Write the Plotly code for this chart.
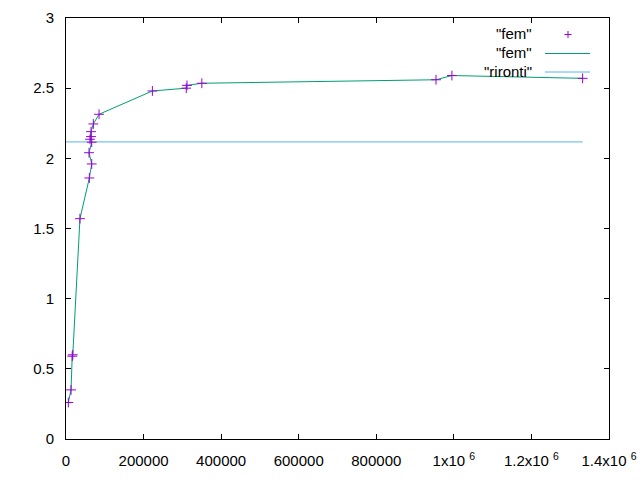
import plotly.graph_objects as go

# data
fem_x = [6000, 13000, 16000, 17500, 36000, 60200, 66300, 59400, 66300, 61900,
         64500, 64500, 70500, 85200, 222700, 310000, 312000, 350200, 954000,
         995000, 1332000]
fem_y = [0.26, 0.35, 0.59, 0.60, 1.57, 1.86, 1.96, 2.04, 2.115, 2.136,
         2.155, 2.19, 2.245, 2.314, 2.48, 2.50, 2.52, 2.535, 2.56,
         2.59, 2.57]
rironti_x = [0, 1332000]
rironti_y = [2.117, 2.117]

x_tickvals = [0, 200000, 400000, 600000, 800000, 1000000, 1200000, 1400000]
x_ticktext = ["0", "200000", "400000", "600000", "800000",
              "1x10 <sup>6</sup>", "1.2x10 <sup>6</sup>", "1.4x10 <sup>6</sup>"]
y_tickvals = [0, 0.5, 1, 1.5, 2, 2.5, 3]
y_ticktext = ["0", "0.5", "1", "1.5", "2", "2.5", "3"]
legend_labels = ['"fem"', '"fem"', '"rironti"']

PURPLE = "#9400d3"
GREEN = "#009e73"
BLUE = "#56b4e9"
FONT = "Liberation Sans, Arial, sans-serif"
FS = 15

fig = go.Figure()
fig.add_trace(go.Scatter(x=rironti_x, y=rironti_y, mode="lines",
                         line=dict(color=BLUE, width=1), showlegend=False))
fig.add_trace(go.Scatter(x=fem_x, y=fem_y, mode="lines",
                         line=dict(color=GREEN, width=1), showlegend=False))
fig.add_trace(go.Scatter(x=fem_x, y=fem_y, mode="markers",
                         marker=dict(symbol="cross-thin", size=7,
                                     line=dict(color=PURPLE, width=1)),
                         showlegend=False))

W, H = 640, 480
L, R, T, B = 66, 31, 18, 41
pw, ph = W - L - R, H - T - B


def px(xp):
    return (xp - L) / pw


def py(yp):
    return 1 - (yp - T) / ph


shapes = []
annotations = []
rows = [33.5, 52.5, 71]
for lab, yy in zip(legend_labels, rows):
    annotations.append(dict(x=px(534), y=py(yy), xref="paper", yref="paper",
                            text=lab, showarrow=False, xanchor="right",
                            yanchor="middle",
                            font=dict(family=FONT, size=FS, color="black")))
# plus sample
shapes.append(dict(type="line", xref="paper", yref="paper",
                   x0=px(564.5), x1=px(571.5), y0=py(34.5), y1=py(34.5),
                   line=dict(color=PURPLE, width=1)))
shapes.append(dict(type="line", xref="paper", yref="paper",
                   x0=px(568), x1=px(568), y0=py(31), y1=py(38),
                   line=dict(color=PURPLE, width=1)))
shapes.append(dict(type="line", xref="paper", yref="paper",
                   x0=px(545), x1=px(590), y0=py(53.5), y1=py(53.5),
                   line=dict(color=GREEN, width=1)))
shapes.append(dict(type="line", xref="paper", yref="paper",
                   x0=px(545), x1=px(590), y0=py(72), y1=py(72),
                   line=dict(color=BLUE, width=1)))

axis_common = dict(showline=True, linecolor="black", linewidth=1,
                   mirror="ticks", ticks="inside", ticklen=5, tickcolor="black",
                   tickwidth=1, showgrid=False, zeroline=False,
                   automargin=False,
                   tickfont=dict(family=FONT, size=FS, color="black"))

fig.update_layout(
    width=W, height=H,
    margin=dict(l=L, r=R, t=T, b=B, autoexpand=False),
    plot_bgcolor="white", paper_bgcolor="white",
    xaxis=dict(range=[0, 1400000], tickvals=x_tickvals, ticktext=x_ticktext,
               ticklabelstandoff=8, **axis_common),
    yaxis=dict(range=[0, 3], tickvals=y_tickvals, ticktext=y_ticktext,
               ticklabelstandoff=8, **axis_common),
    shapes=shapes, annotations=annotations,
    showlegend=False,
)

fig.write_html("out.html",
               config={"displayModeBar": False},
               post_script="document.body.style.margin='0';"
                           "document.body.style.overflow='hidden';")
